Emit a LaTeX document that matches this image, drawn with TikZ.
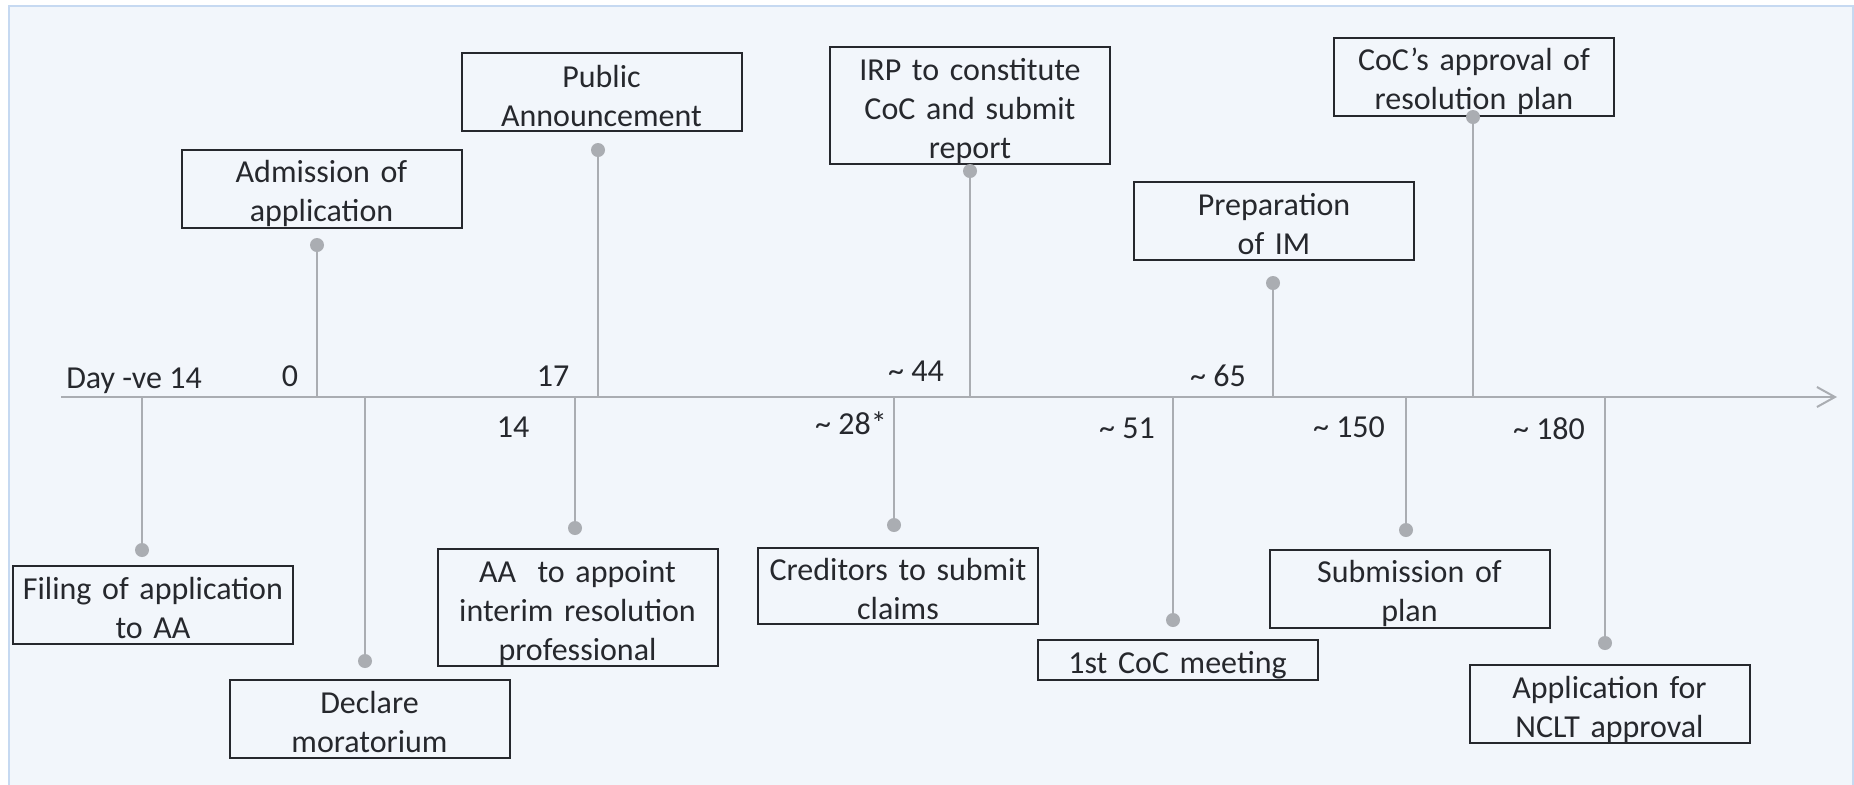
\documentclass[tikz,border=0pt]{standalone}
\usepackage{fontspec}
\setmainfont{Carlito}
\usetikzlibrary{arrows.meta}

\definecolor{bgfill}{RGB}{242,246,251}
\definecolor{bgline}{RGB}{198,217,241}
\definecolor{stemgray}{RGB}{170,173,178}
\definecolor{txtdark}{RGB}{38,40,45}

\newcommand{\evtop}{\rule{0pt}{16.5pt}}
\newcommand{\evbot}{\rule[-2pt]{0pt}{0pt}}
\tikzset{
  event/.style={draw=txtdark, line width=1pt, text=txtdark, text width=140pt,
    align=center, inner sep=0pt, minimum height=39pt,
    execute at begin node=\evtop, execute at end node=\evbot,
    font=\fontsize{16}{19.5}\selectfont},
  pin/.style={circle, fill=stemgray, inner sep=0pt, minimum size=7pt},
  stem/.style={stemgray, line width=1pt},
  daylabel/.style={text=txtdark, inner sep=0pt, font=\fontsize{16}{19.5}\selectfont},
}
\newcommand{\approxday}{\textasciitilde\ }

\begin{document}
\begin{tikzpicture}[x=0.5pt, y=-0.5pt]
    \useasboundingbox (0,0) rectangle (1854,784);
    % Background panel.
        \fill[bgfill] (9,6) rectangle (1853,800);
        \draw[bgline, line width=1.25pt] (9,800) -- (9,6) -- (1853,6) -- (1853,800);
    % The time axis.
        \coordinate (axl) at (61,397);
        \coordinate (axr) at (1837,397);
        \draw[stemgray, line width=1pt, -{Straight Barb[length=9pt, width=10pt, line width=1pt]}] (axl) -- (axr);
    % Events above the axis.
        \node[event] (admit) at (321.5,188.5) {Admission of\\application};
        \node[event] (public) at (601.5,92) {Public\\Announcement};
        \node[event, minimum height=58pt] (irp) at (970,105.5) {IRP to constitute\\CoC and submit\\report};
        \node[event] (prep) at (1274,220.5) {Preparation\\of IM};
        \node[event] (approve) at (1474,76.5) {CoC’s approval of\\resolution plan};
    % Events below the axis.
        \node[event] (filing) at (153,604.5) {Filing of application\\to AA};
        \node[event] (declare) at (369.5,718.5) {Declare\\moratorium};
        \node[event, minimum height=58.5pt] (appoint) at (577.5,607.5) {AA\ \ to appoint\\interim resolution\\professional};
        \node[event, minimum height=20pt] (creditors) at (898,585.5) {Creditors to submit\\claims};
        \node[event, minimum height=20pt] (meeting) at (1177.5,660) {1st CoC meeting};
        \node[event] (submit) at (1409.5,588.5) {Submission of\\plan};
        \node[event] (nclt) at (1609.5,704) {Application for\\NCLT approval};
    % Pins and their stems.
        \node[pin] (admitp) at (317,245) {};
        \node[pin] (publicp) at (598,150) {};
        \node[pin] (irpp) at (970,171) {};
        \node[pin] (prepp) at (1273,283) {};
        \node[pin] (approvep) at (1473,117) {};
        \node[pin] (filingp) at (142,550) {};
        \node[pin] (declarep) at (365,661) {};
        \node[pin] (appointp) at (575,528) {};
        \node[pin] (creditorsp) at (894,525) {};
        \node[pin] (meetingp) at (1173,620) {};
        \node[pin] (submitp) at (1406,530) {};
        \node[pin] (ncltp) at (1605,643) {};
        \draw[stem] (admitp.center) -- (admitp |- axl);
        \draw[stem] (publicp.center) -- (publicp |- axl);
        \draw[stem] (irpp.center) -- (irpp |- axl);
        \draw[stem] (prepp.center) -- (prepp |- axl);
        \draw[stem] (approvep.center) -- (approvep |- axl);
        \draw[stem] (filingp.center) -- (filingp |- axl);
        \draw[stem] (declarep.center) -- (declarep |- axl);
        \draw[stem] (appointp.center) -- (appointp |- axl);
        \draw[stem] (creditorsp.center) -- (creditorsp |- axl);
        \draw[stem] (meetingp.center) -- (meetingp |- axl);
        \draw[stem] (submitp.center) -- (submitp |- axl);
        \draw[stem] (ncltp.center) -- (ncltp |- axl);
    % Day labels.
        \node[daylabel] (dstart) at (134,381) {Day -ve 14};
        \node[daylabel] (d0) at (290,376) {0};
        \node[daylabel] (d17) at (553,376) {17};
        \node[daylabel] (d44) at (916,371) {\approxday44};
        \node[daylabel] (d65) at (1218,376) {\approxday65};
        \node[daylabel] (d14) at (513,427) {14};
        \node[daylabel] (d28) at (851,423) {\approxday28*};
        \node[daylabel] (d51) at (1127,428) {\approxday51};
        \node[daylabel] (d150) at (1349,427) {\approxday150};
        \node[daylabel] (d180) at (1549,429) {\approxday180};
\end{tikzpicture}
\end{document}
